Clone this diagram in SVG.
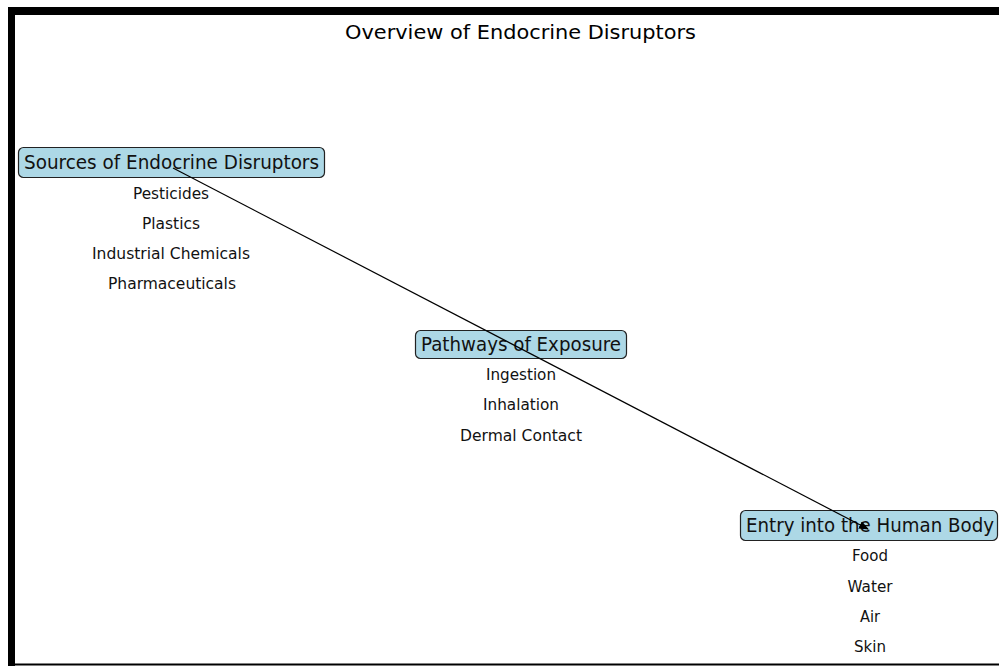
<svg xmlns="http://www.w3.org/2000/svg" width="999" height="666" viewBox="0 0 999 666">
<style>
.t{font-family:"DejaVu Sans",sans-serif;fill:#000;text-anchor:middle;dominant-baseline:central}
.box{fill:#add8e6;stroke:#222;stroke-width:1.2}
.h{font-size:19.5px;fill:#111}
.i{font-size:16px;fill:#111}
</style>
<defs>
<marker id="ah" markerWidth="10" markerHeight="8" refX="9" refY="4" orient="auto" markerUnits="userSpaceOnUse">
<path d="M0,0 L10,4 L0,8 Z" fill="#000"/>
</marker>
</defs>
<rect width="999" height="666" fill="#fff"/>
<rect x="8" y="7" width="991" height="8" fill="#000"/>
<rect x="8" y="7" width="7" height="659" fill="#000"/>
<rect x="8" y="663.5" width="991" height="2" fill="#000"/>
<text class="t" x="520.5" y="32" font-size="20" textLength="351" lengthAdjust="spacingAndGlyphs">Overview of Endocrine Disruptors</text>
<g id="sources">
<rect class="box" x="18.5" y="147.5" width="306" height="30" rx="5"/>
<text class="t h" x="171.5" y="162" textLength="295" lengthAdjust="spacingAndGlyphs">Sources of Endocrine Disruptors</text>
<text class="t i" x="171" y="193" textLength="76" lengthAdjust="spacingAndGlyphs">Pesticides</text>
<text class="t i" x="171" y="223" textLength="58" lengthAdjust="spacingAndGlyphs">Plastics</text>
<text class="t i" x="171" y="253" textLength="158" lengthAdjust="spacingAndGlyphs">Industrial Chemicals</text>
<text class="t i" x="172" y="283" textLength="128" lengthAdjust="spacingAndGlyphs">Pharmaceuticals</text>
</g>
<g id="pathways">
<rect class="box" x="415.5" y="330.5" width="211" height="28" rx="5"/>
<text class="t h" x="521" y="344" textLength="200" lengthAdjust="spacingAndGlyphs">Pathways of Exposure</text>
<text class="t i" x="521" y="374" textLength="70" lengthAdjust="spacingAndGlyphs">Ingestion</text>
<text class="t i" x="521" y="404" textLength="76" lengthAdjust="spacingAndGlyphs">Inhalation</text>
<text class="t i" x="521" y="435" textLength="122" lengthAdjust="spacingAndGlyphs">Dermal Contact</text>
</g>
<g id="entry">
<rect class="box" x="740.5" y="510.5" width="257" height="30" rx="5"/>
<text class="t h" x="870" y="525" textLength="248" lengthAdjust="spacingAndGlyphs">Entry into the Human Body</text>
<text class="t i" x="870" y="555" textLength="36" lengthAdjust="spacingAndGlyphs">Food</text>
<text class="t i" x="870" y="586" textLength="45" lengthAdjust="spacingAndGlyphs">Water</text>
<text class="t i" x="870" y="616" textLength="20" lengthAdjust="spacingAndGlyphs">Air</text>
<text class="t i" x="870" y="646" textLength="32" lengthAdjust="spacingAndGlyphs">Skin</text>
</g>
<g id="connectors">
<line x1="173" y1="168" x2="868" y2="529" stroke="#000" stroke-width="1.2" marker-end="url(#ah)"/>
</g>
</svg>
